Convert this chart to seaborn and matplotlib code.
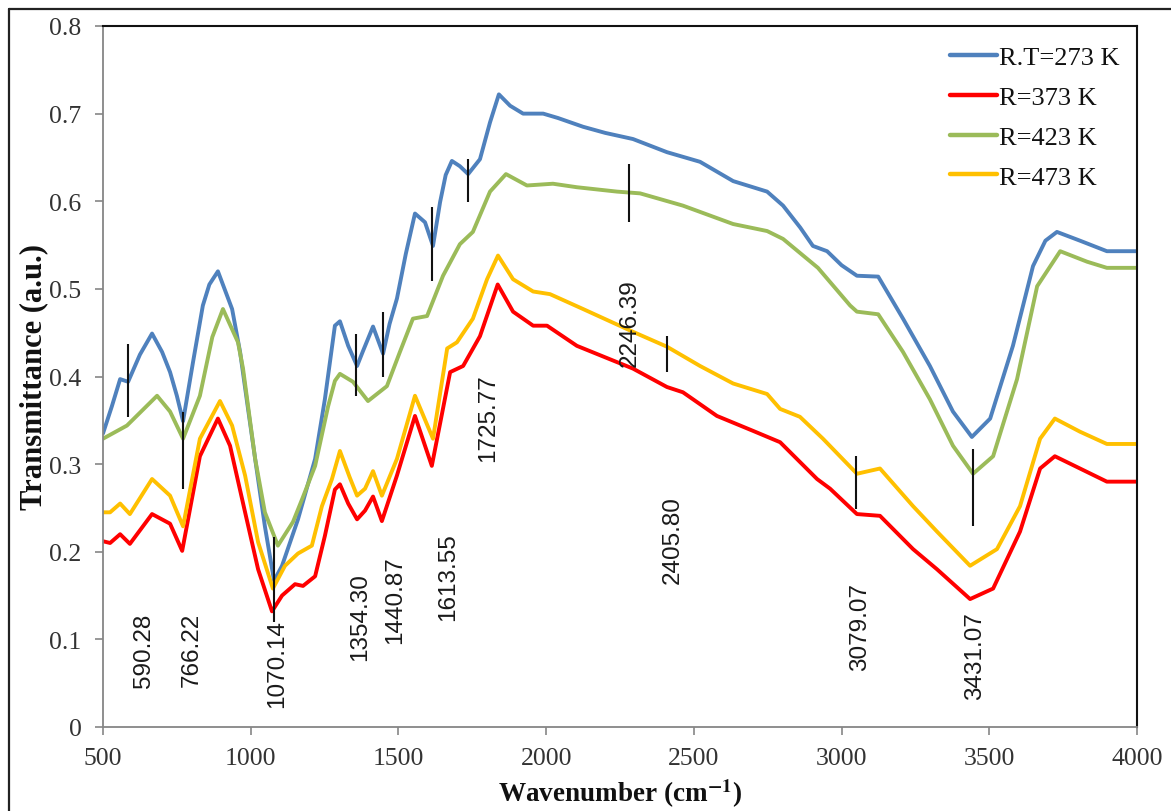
import numpy as np
import pandas as pd
import matplotlib
matplotlib.use("Agg")
import matplotlib.pyplot as plt
from matplotlib.lines import Line2D
import seaborn as sns

# ---------------- data ----------------
series_names = ["R.T=273 K", "R=373 K", "R=423 K", "R=473 K"]
series_colors = ["#4F81BD", "#FF0000", "#9BBB59", "#FFC000"]

wn_rt = [500, 530, 558, 585, 625, 666, 700, 727, 750, 771, 805, 838, 860, 889, 937, 964, 991, 1015, 1048, 1079,
         1106, 1160, 1218, 1251, 1285, 1302, 1330, 1360, 1380, 1414, 1448, 1470, 1495, 1525, 1556, 1590, 1617, 1641,
         1660, 1681, 1708, 1736, 1776, 1810, 1840, 1878, 1922, 1990, 2040, 2125, 2200, 2294, 2409, 2521, 2633, 2748,
         2802, 2860, 2903, 2951, 3000, 3052, 3124, 3208, 3299, 3377, 3441, 3503, 3580, 3648, 3690, 3729, 3807, 3898, 4000]
t_rt = [0.335, 0.366, 0.397, 0.394, 0.425, 0.449, 0.428, 0.405, 0.378, 0.349, 0.417, 0.481, 0.505, 0.520, 0.477,
        0.428, 0.363, 0.306, 0.229, 0.167, 0.184, 0.237, 0.306, 0.374, 0.458, 0.463, 0.435, 0.412, 0.429, 0.457,
        0.426, 0.460, 0.489, 0.540, 0.586, 0.576, 0.549, 0.599, 0.630, 0.646, 0.640, 0.631, 0.648, 0.690, 0.722,
        0.709, 0.700, 0.700, 0.695, 0.685, 0.678, 0.671, 0.656, 0.645, 0.623, 0.611, 0.595, 0.570, 0.549, 0.543,
        0.527, 0.515, 0.514, 0.466, 0.412, 0.360, 0.331, 0.352, 0.435, 0.526, 0.555, 0.565, 0.555, 0.543, 0.543]

wn_373 = [500, 524, 558, 591, 666, 727, 768, 828, 889, 930, 981, 1025, 1072, 1106, 1150, 1177, 1218, 1251, 1285, 1302,
          1330, 1360, 1387, 1414, 1444, 1495, 1556, 1613, 1675, 1719, 1776, 1836, 1888, 1956, 2003, 2104, 2294, 2409,
          2463, 2578, 2700, 2792, 2917, 2961, 3052, 3130, 3242, 3323, 3435, 3513, 3604, 3672, 3722, 3807, 3898, 4000]
t_373 = [0.212, 0.210, 0.220, 0.209, 0.243, 0.232, 0.201, 0.309, 0.352, 0.321, 0.245, 0.180, 0.132, 0.150, 0.163,
         0.161, 0.172, 0.218, 0.271, 0.277, 0.255, 0.237, 0.247, 0.263, 0.235, 0.287, 0.355, 0.298, 0.405, 0.412,
         0.446, 0.505, 0.474, 0.458, 0.458, 0.435, 0.409, 0.388, 0.382, 0.355, 0.338, 0.325, 0.283, 0.272, 0.243,
         0.241, 0.203, 0.180, 0.146, 0.158, 0.223, 0.295, 0.309, 0.295, 0.280, 0.280]

wn_423 = [500, 581, 683, 727, 771, 828, 870, 906, 957, 974, 1015, 1048, 1092, 1143, 1174, 1218, 1262, 1285, 1302, 1346,
          1397, 1461, 1505, 1549, 1597, 1651, 1708, 1752, 1810, 1864, 1935, 2023, 2104, 2240, 2318, 2463, 2633, 2748,
          2802, 2920, 3029, 3052, 3124, 3208, 3299, 3377, 3445, 3513, 3594, 3662, 3740, 3831, 3898, 4000]
t_423 = [0.329, 0.344, 0.378, 0.360, 0.329, 0.378, 0.445, 0.477, 0.439, 0.409, 0.306, 0.245, 0.207, 0.234, 0.260,
         0.298, 0.366, 0.395, 0.403, 0.394, 0.372, 0.389, 0.428, 0.466, 0.469, 0.515, 0.551, 0.565, 0.611, 0.631,
         0.618, 0.620, 0.616, 0.611, 0.609, 0.595, 0.574, 0.566, 0.557, 0.524, 0.481, 0.474, 0.471, 0.428, 0.374,
         0.321, 0.289, 0.309, 0.397, 0.503, 0.543, 0.531, 0.524, 0.524]

wn_473 = [500, 524, 558, 591, 666, 727, 771, 828, 896, 937, 981, 1025, 1075, 1116, 1160, 1207, 1241, 1275, 1302, 1335,
          1360, 1387, 1414, 1444, 1495, 1556, 1617, 1665, 1698, 1752, 1800, 1837, 1888, 1956, 2013, 2125, 2294, 2409,
          2521, 2633, 2748, 2792, 2859, 2937, 3052, 3130, 3242, 3323, 3435, 3526, 3604, 3672, 3722, 3807, 3898, 4000]
t_473 = [0.245, 0.245, 0.255, 0.243, 0.283, 0.264, 0.229, 0.329, 0.372, 0.344, 0.287, 0.211, 0.158, 0.184, 0.198,
         0.207, 0.252, 0.283, 0.315, 0.285, 0.264, 0.272, 0.292, 0.264, 0.306, 0.378, 0.329, 0.432, 0.439, 0.466,
         0.511, 0.538, 0.511, 0.497, 0.494, 0.477, 0.451, 0.434, 0.412, 0.392, 0.380, 0.363, 0.354, 0.329, 0.289,
         0.295, 0.252, 0.223, 0.184, 0.203, 0.252, 0.329, 0.352, 0.337, 0.323, 0.323]

# peak marker ticks (vertical black strokes)
mark_wn = [585, 771, 1078, 1357, 1448, 1614, 1736, 2280, 2409, 3049, 3445]
mark_lo = [0.354, 0.272, 0.120, 0.378, 0.400, 0.509, 0.599, 0.576, 0.405, 0.249, 0.229]
mark_hi = [0.437, 0.360, 0.217, 0.449, 0.474, 0.594, 0.648, 0.643, 0.446, 0.309, 0.317]

# peak labels (rotated)
peak_text = ["590.28", "766.22", "1070.14", "1354.30", "1440.87", "1613.55", "1725.77",
             "2246.39", "2405.80", "3079.07", "3431.07"]
peak_x = [639, 801, 1089, 1370, 1488, 1668, 1803, 2284, 2429, 3062, 3452]
peak_y = [0.088, 0.089, 0.073, 0.127, 0.146, 0.172, 0.354, 0.462, 0.215, 0.115, 0.082]

x_ticks = [500, 1000, 1500, 2000, 2500, 3000, 3500, 4000]
y_ticks = [0, 0.1, 0.2, 0.3, 0.4, 0.5, 0.6, 0.7, 0.8]
y_tick_labels = ["0", "0.1", "0.2", "0.3", "0.4", "0.5", "0.6", "0.7", "0.8"]

# ---------------- build table ----------------
frames = []
for name, wn, tv in zip(series_names, [wn_rt, wn_373, wn_423, wn_473], [t_rt, t_373, t_423, t_473]):
    frames.append(pd.DataFrame({"wn": wn, "t": tv, "series": name}))
df = pd.concat(frames, ignore_index=True)

# ---------------- style ----------------
sns.set_theme(style="white")
plt.rcParams["font.family"] = ["Liberation Serif", "DejaVu Serif"]
plt.rcParams["mathtext.fontset"] = "stix"

fig = plt.figure(figsize=(11.71, 8.12), dpi=100)
ax = fig.add_axes([103 / 1171, (812 - 728) / 812, 1034 / 1171, 701 / 812])

sns.lineplot(data=df, x="wn", y="t", hue="series", hue_order=series_names,
             palette=dict(zip(series_names, series_colors)), linewidth=2.8,
             estimator=None, sort=False, ax=ax)
for ln in ax.get_lines():
    ln.set_solid_joinstyle("round")
    ln.set_solid_capstyle("round")

ax.vlines(mark_wn, mark_lo, mark_hi, colors="#111111", linewidth=1.5, zorder=5)
for txt, xx, yy in zip(peak_text, peak_x, peak_y):
    ax.text(xx, yy, txt, rotation=90, ha="center", va="center", fontsize=17.5,
            family=["Liberation Sans", "DejaVu Sans"], color="#1a1a1a", zorder=6)

ax.set_xlim(500, 4000)
ax.set_ylim(0, 0.8)
ax.set_xticks(x_ticks)
ax.set_xticklabels([str(v) for v in x_ticks])
ax.set_yticks(y_ticks)
ax.set_yticklabels(y_tick_labels)
ax.tick_params(axis="both", which="major", labelsize=18.5, colors="#868686", labelcolor="#333333",
               direction="out", length=5.5, width=1.2)
ax.tick_params(axis="x", pad=9)
ax.tick_params(axis="y", pad=10)
ax.xaxis.set_ticks_position("bottom")
ax.yaxis.set_ticks_position("left")

for side in ["left", "bottom"]:
    ax.spines[side].set_color("#868686")
    ax.spines[side].set_linewidth(1.3)
for side in ["top", "right"]:
    ax.spines[side].set_color("#111111")
    ax.spines[side].set_linewidth(1.5)

ax.set_xlabel(r"Wavenumber (cm$^{\mathbf{-1}}$)", fontsize=19.5, fontweight="bold", color="#111111")
ax.set_ylabel("Transmittance (a.u.)", fontsize=22, fontweight="bold", color="#111111")
ax.xaxis.set_label_coords(0.5, -0.07)
ax.yaxis.set_label_coords(-0.053, 0.5)

leg = ax.legend(loc="upper left", bbox_to_anchor=(0.819, 0.972), frameon=False, fontsize=19,
                borderaxespad=0, borderpad=0, handlelength=1.8, handletextpad=0.08, labelspacing=0.62)
for h in leg.get_lines():
    h.set_linewidth(3.2)
for t in leg.get_texts():
    t.set_color("#111111")

# outer frame of the original picture (cropped on right / bottom)
fig.add_artist(Line2D([9 / 1171, 1.0], [1 - 10 / 812, 1 - 10 / 812], transform=fig.transFigure,
                      color="#222222", linewidth=1.6))
fig.add_artist(Line2D([9 / 1171, 9 / 1171], [1 - 10 / 812, 0.0], transform=fig.transFigure,
                      color="#222222", linewidth=1.6))

fig.savefig("out.png", dpi=100, facecolor="white")
